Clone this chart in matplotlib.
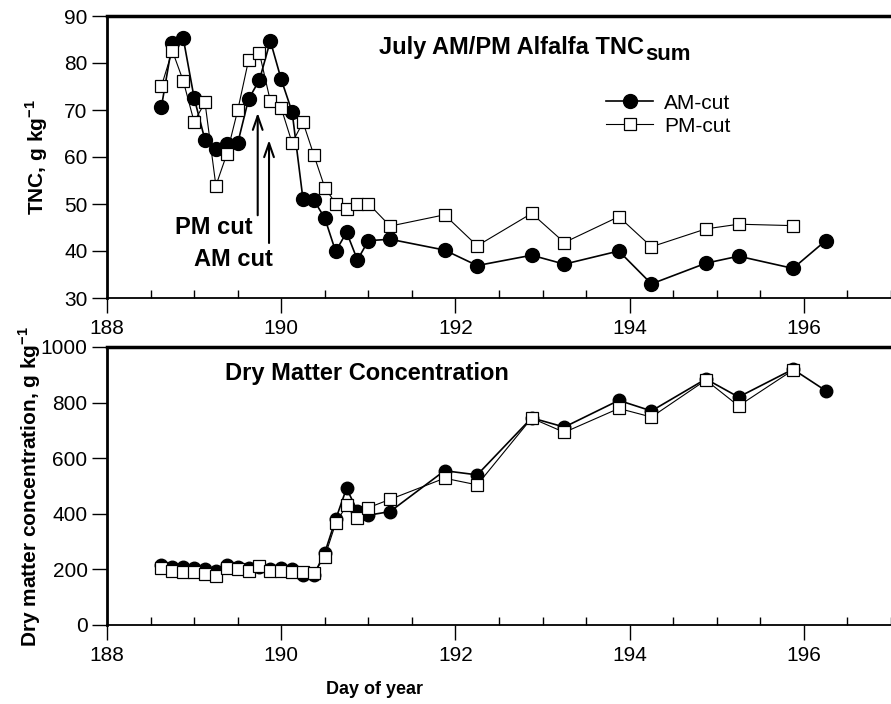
import matplotlib.pyplot as plt
from matplotlib.ticker import MultipleLocator

plt.rcParams['font.family'] = ['Liberation Sans', 'DejaVu Sans']
plt.rcParams['mathtext.fontset'] = 'custom'
plt.rcParams['mathtext.rm'] = 'Liberation Sans'
plt.rcParams['mathtext.bf'] = 'Liberation Sans:bold'

# sampling days (day of year)
day_am = [188.625, 188.75, 188.875, 189.0, 189.125, 189.25, 189.375, 189.5,
          189.625, 189.75, 189.875, 190.0, 190.125, 190.25, 190.375, 190.5,
          190.625, 190.75, 190.875, 191.0, 191.25, 191.875, 192.25, 192.875,
          193.25, 193.875, 194.25, 194.875, 195.25, 195.875, 196.25]
day_pm = day_am[:-1]

# TNC, g/kg
tnc_am = [70.7, 84.2, 85.3, 72.6, 63.6, 61.8, 62.8, 62.9, 72.3, 76.4, 84.7,
          76.5, 69.6, 51.0, 50.8, 47.0, 39.9, 44.0, 38.1, 42.2, 42.5, 40.2,
          36.9, 39.1, 37.2, 40.0, 33.0, 37.4, 38.9, 36.3, 42.2]
tnc_pm = [75.1, 82.6, 76.2, 67.5, 71.6, 53.9, 60.6, 69.9, 80.6, 82.1, 71.9,
          70.4, 63.0, 67.4, 60.4, 53.5, 50.1, 48.9, 50.1, 50.1, 45.3, 47.7,
          41.1, 48.0, 41.8, 47.3, 40.9, 44.7, 45.7, 45.4]

# dry matter concentration, g/kg
dm_am = [215, 210, 208, 205, 200, 195, 215, 210, 205, 210, 200, 205, 200,
         180, 180, 260, 380, 492, 410, 395, 408, 555, 540, 745, 712, 808,
         770, 885, 820, 920, 843]
dm_pm = [205, 195, 190, 192, 185, 178, 205, 200, 195, 212, 195, 195, 192,
         190, 188, 245, 366, 430, 385, 422, 452, 528, 504, 744, 693, 779,
         748, 881, 788, 917]

fig = plt.figure(figsize=(8.91, 7.04), dpi=100)
W, H = 891, 704
ax1 = fig.add_axes([107 / W, 1 - 298 / H, 1 - 107 / W, (298 - 16) / H])
ax2 = fig.add_axes([107 / W, 1 - 625 / H, 1 - 107 / W, (625 - 347) / H])

am_style = dict(color='black', marker='o', markersize=10, lw=1.2,
                markerfacecolor='black', markeredgecolor='black')
pm_style = dict(color='black', marker='s', markersize=8.5, lw=0.8,
                markerfacecolor='white', markeredgecolor='black',
                markeredgewidth=0.9)

ax1.plot(day_am, tnc_am, label='AM-cut', zorder=3, **am_style)
ax1.plot(day_pm, tnc_pm, label='PM-cut', zorder=4, **pm_style)
ax2.plot(day_am, dm_am, zorder=3, **dict(am_style, markersize=9))
ax2.plot(day_pm, dm_pm, zorder=4, **dict(pm_style, markersize=8))

for ax in (ax1, ax2):
    ax.set_xlim(188, 197)
    ax.xaxis.set_major_locator(MultipleLocator(2))
    ax.xaxis.set_minor_locator(MultipleLocator(0.5))
    ax.tick_params(axis='x', which='major', direction='out', length=11,
                   width=1, labelsize=15, pad=4)
    ax.tick_params(axis='x', which='minor', direction='in', length=6,
                   width=1)
    ax.tick_params(axis='y', which='major', direction='out', length=11,
                   width=1, labelsize=15, pad=3)
    ax.spines['right'].set_visible(False)
    ax.spines['top'].set_linewidth(2.5)
    ax.spines['left'].set_linewidth(2)
    ax.spines['bottom'].set_linewidth(1.3)

ax1.set_ylim(30, 90)
ax1.set_yticks([30, 40, 50, 60, 70, 80, 90])
ax2.set_ylim(0, 1000)
ax2.set_yticks([0, 200, 400, 600, 800, 1000])

ax1.set_ylabel(r'TNC, g kg$^{\mathbf{-1}}$', fontsize=15, fontweight='bold')
ax1.yaxis.set_label_coords(-0.073, 0.5)
ax2.set_ylabel(r'Dry matter concentration, g kg$^{\mathbf{-1}}$',
               fontsize=15, fontweight='bold')
ax2.yaxis.set_label_coords(-0.082, 0.5)
ax2.set_xlabel('Day of year', fontsize=13, fontweight='bold')
ax2.xaxis.set_label_coords((375 - 107) / (W - 107), -0.2)

title = ax1.text(191.12, 83.4, 'July AM/PM Alfalfa TNC', fontsize=17,
                 fontweight='bold', va='center')
ax1.annotate('sum', xy=(1, 0), xycoords=title, xytext=(1, 3),
             textcoords='offset points', fontsize=16, fontweight='bold',
             va='center')
ax2.text(189.35, 906, 'Dry Matter Concentration', fontsize=17,
         fontweight='bold', va='center')

ax1.text(188.78, 45.1, 'PM cut', fontsize=17, fontweight='bold', va='center')
ax1.text(189.0, 38.1, 'AM cut', fontsize=17, fontweight='bold', va='center')
arrow = dict(arrowstyle='->,head_length=1.0,head_width=0.35', lw=1.5,
             color='black', shrinkA=0, shrinkB=0)
ax1.annotate('', xy=(189.73, 69.4), xytext=(189.73, 47.6), arrowprops=arrow)
ax1.annotate('', xy=(189.86, 63.6), xytext=(189.86, 41.7), arrowprops=arrow)

ax1.legend(loc='center left', bbox_to_anchor=(0.612, 0.65), frameon=False,
           fontsize=15, handlelength=2.3, handletextpad=0.5,
           labelspacing=0.2)

fig.savefig('out.png', dpi=100)
